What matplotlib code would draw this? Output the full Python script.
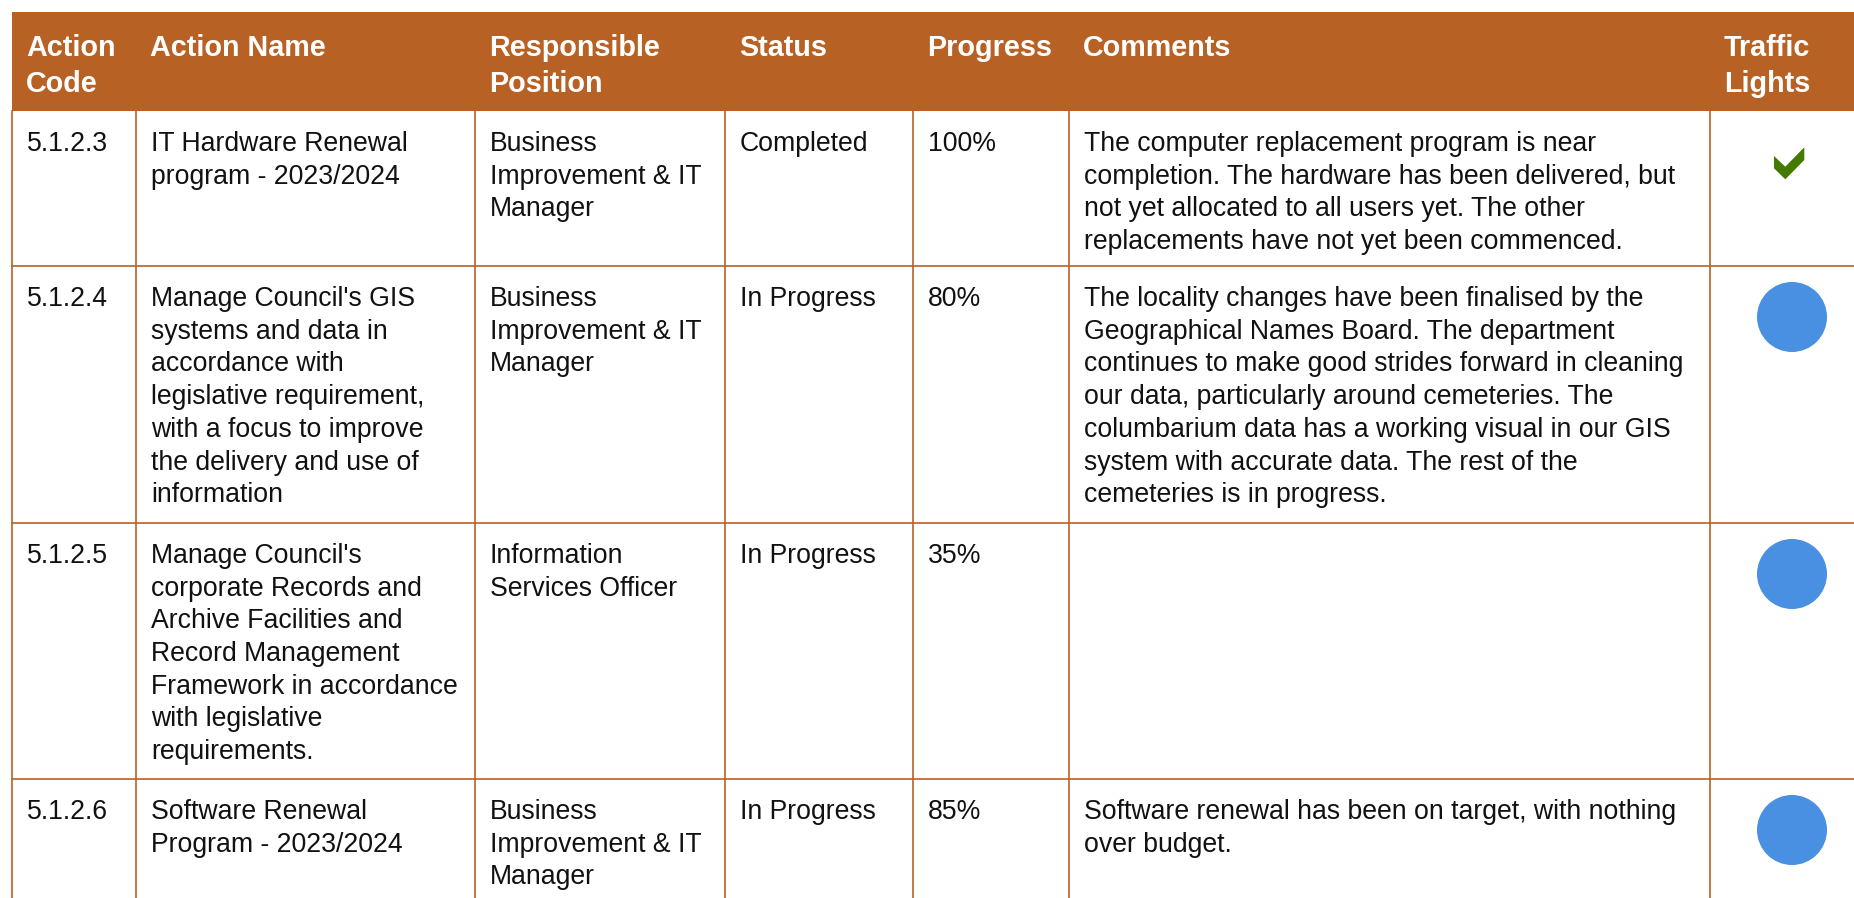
import matplotlib.pyplot as plt
from matplotlib.patches import Rectangle, Circle, Polygon

plt.rcParams['font.family'] = ['Liberation Sans', 'DejaVu Sans']

# table content
headers = ["Action\nCode", "Action Name", "Responsible\nPosition", "Status",
           "Progress", "Comments", "Traffic\nLights"]
codes = ["5.1.2.3", "5.1.2.4", "5.1.2.5", "5.1.2.6"]
names = [
    "IT Hardware Renewal\nprogram - 2023/2024",
    "Manage Council's GIS\nsystems and data in\naccordance with\nlegislative requirement,\n"
    "with a focus to improve\nthe delivery and use of\ninformation",
    "Manage Council's\ncorporate Records and\nArchive Facilities and\nRecord Management\n"
    "Framework in accordance\nwith legislative\nrequirements.",
    "Software Renewal\nProgram - 2023/2024",
]
positions = [
    "Business\nImprovement & IT\nManager",
    "Business\nImprovement & IT\nManager",
    "Information\nServices Officer",
    "Business\nImprovement & IT\nManager",
]
statuses = ["Completed", "In Progress", "In Progress", "In Progress"]
progress = ["100%", "80%", "35%", "85%"]
comments = [
    "The computer replacement program is near\ncompletion. The hardware has been delivered, but\n"
    "not yet allocated to all users yet. The other\nreplacements have not yet been commenced.",
    "The locality changes have been finalised by the\nGeographical Names Board. The department\n"
    "continues to make good strides forward in cleaning\nour data, particularly around cemeteries. The\n"
    "columbarium data has a working visual in our GIS\nsystem with accurate data. The rest of the\n"
    "cemeteries is in progress.",
    "",
    "Software renewal has been on target, with nothing\nover budget.",
]
lights = ["check", "circle", "circle", "circle"]

# layout (pixels)
W, H = 1854, 898
col_x = [12, 136, 475, 725, 913, 1069, 1710]
header_top, header_bot = 12, 111
row_tops = [111, 266, 523, 779]
orange = '#B86125'
blue = '#4A90E2'
green = '#457A00'

fig = plt.figure(figsize=(W / 100, H / 100), dpi=100)
ax = fig.add_axes([0, 0, 1, 1])
ax.set_xlim(0, W)
ax.set_ylim(H, 0)
ax.axis('off')

# header
ax.add_patch(Rectangle((col_x[0], header_top), W - col_x[0], header_bot - header_top,
                       color=orange, lw=0))
for x, h in zip(col_x, headers):
    for i, line in enumerate(h.split('\n')):
        ax.text(x + 14, header_top + 44 + i * 36, line, color='white', fontsize=20.7,
                fontweight='bold', va='baseline', ha='left')

# grid lines
for y in row_tops[1:]:
    ax.plot([col_x[0], W], [y, y], color=orange, lw=1.2)
for x in col_x:
    ax.plot([x, x], [header_bot, H], color=orange, lw=1.2)

# body cells
cols = [codes, names, positions, statuses, progress, comments]
for r, top in enumerate(row_tops):
    for c, values in enumerate(cols):
        for i, line in enumerate(values[r].split('\n')):
            ax.text(col_x[c] + 15, top + 40 + i * 32.7, line, color='#111111',
                    fontsize=19.2, va='baseline', ha='left')
    if lights[r] == 'check':
        cx, cy = 1789, top + 52
        pts = [(-15, -7), (-3.7, 3.7), (15.3, -15.7), (15.3, -3), (-3.7, 16.3), (-15, 5.3)]
        ax.add_patch(Polygon([(cx + dx, cy + dy) for dx, dy in pts], closed=True,
                             color=green, lw=0))
    else:
        ax.add_patch(Circle((1792, top + 51), 35, color=blue, lw=0))

fig.savefig('out.png', dpi=100)
